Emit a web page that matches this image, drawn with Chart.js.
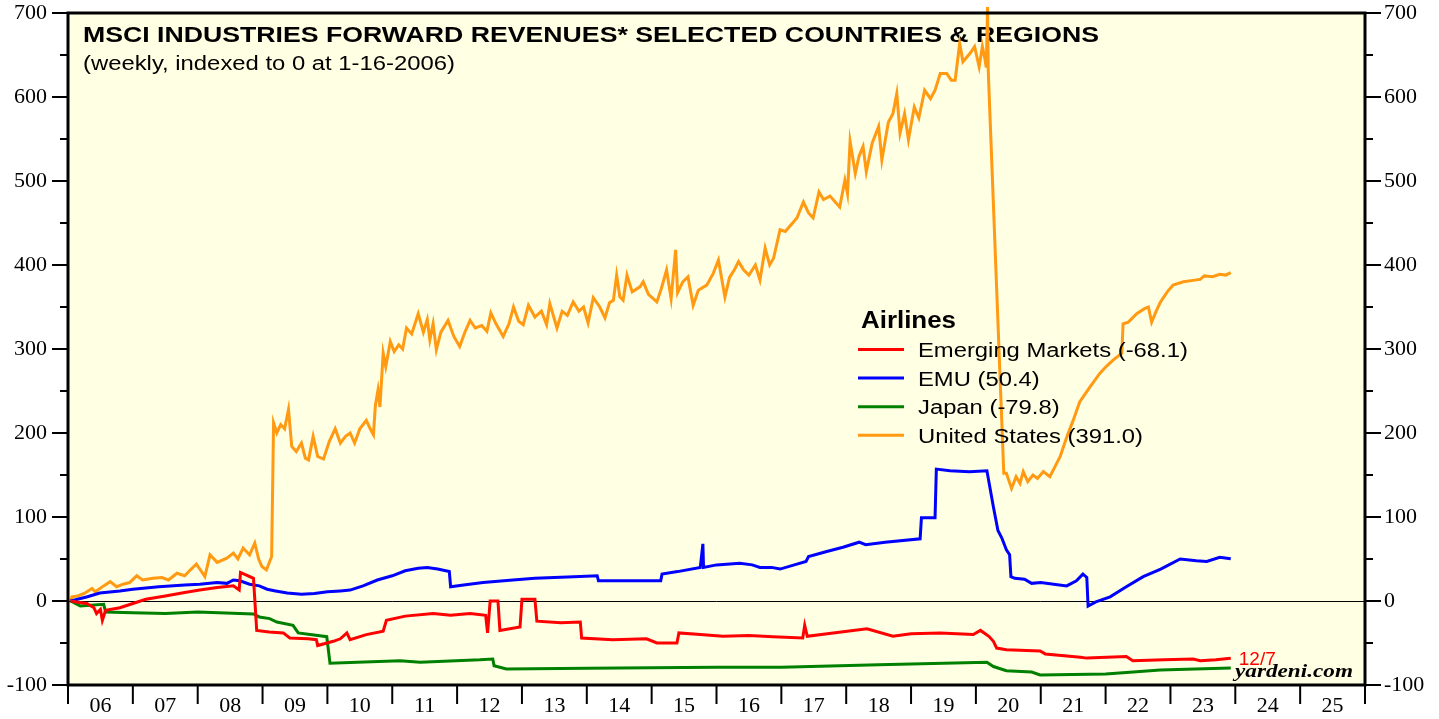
<!DOCTYPE html>
<html>
<head>
<meta charset="utf-8">
<title>MSCI Industries Forward Revenues - Airlines</title>
<script src="https://cdn.jsdelivr.net/npm/chart.js@4.4.1/dist/chart.umd.min.js"></script>
<style>
  html, body { margin: 0; padding: 0; background: #ffffff; }
  #chart { display: block; }
</style>
</head>
<body>
<canvas id="chart" width="1439" height="719"></canvas>
<script>
// weekly data, indexed to 0 at 1-16-2006 (x = decimal year)
const emWeeks = [2006.04, 2006.20, 2006.29, 2006.40, 2006.44, 2006.50, 2006.53, 2006.58, 2006.80, 2007.00, 2007.20, 2007.50,
  2007.80, 2008.03, 2008.30, 2008.55, 2008.64, 2008.66, 2008.86, 2008.91, 2009.10, 2009.32, 2009.42, 2009.70, 2009.83, 2009.85,
  2010.09, 2010.20, 2010.30, 2010.35, 2010.60, 2010.86, 2010.91, 2011.20, 2011.63, 2011.90, 2012.20, 2012.44, 2012.47, 2012.51,
  2012.63, 2012.66, 2012.97, 2013.00, 2013.20, 2013.23, 2013.60, 2013.90, 2013.92, 2014.40, 2014.92, 2015.08, 2015.39, 2015.42,
  2015.75, 2016.10, 2016.50, 2016.87, 2017.33, 2017.36, 2017.40, 2017.80, 2018.32, 2018.72, 2019.00, 2019.45, 2019.96, 2020.07,
  2020.20, 2020.27, 2020.32, 2020.47, 2020.99, 2021.07, 2021.61, 2021.71, 2022.32, 2022.42, 2022.90, 2023.35, 2023.46, 2023.70, 2023.93];
const emValues = [0, -2, -3, -8, -15, -10, -23, -11, -8, -3, 2, 6,
  10, 13, 16, 18, 13, 34, 27, -35, -37, -38, -44, -45, -46, -53,
  -48, -45, -38, -46, -40, -36, -23, -18, -15, -17, -15, -17, -38, 0,
  0, -35, -31, 2, 2, -24, -26, -25, -44, -46, -45, -50, -50, -38,
  -40, -42, -41, -42.5, -44, -29, -42, -38, -33, -42, -39, -38, -40, -35,
  -42, -48, -56, -58, -59.5, -63, -67, -68, -66, -71, -70, -69, -71, -70, -68.1];

const emuWeeks = [2006.04, 2006.30, 2006.49, 2006.80, 2007.00, 2007.40, 2007.80, 2008.03, 2008.30, 2008.45, 2008.55, 2008.65,
  2008.80, 2008.95, 2009.07, 2009.20, 2009.38, 2009.60, 2009.80, 2010.00, 2010.20, 2010.35, 2010.55, 2010.77, 2011.00, 2011.20,
  2011.40, 2011.54, 2011.70, 2011.88, 2011.90, 2012.10, 2012.40, 2012.86, 2013.20, 2013.50, 2013.80, 2014.16, 2014.18, 2014.60,
  2015.14, 2015.16, 2015.40, 2015.75, 2015.79, 2015.80, 2016.00, 2016.36, 2016.55, 2016.67, 2016.85, 2016.98, 2017.20, 2017.38,
  2017.42, 2017.70, 2017.95, 2018.20, 2018.30, 2018.60, 2019.14, 2019.16, 2019.37, 2019.39, 2019.60, 2019.90, 2020.17, 2020.27,
  2020.34, 2020.40, 2020.47, 2020.52, 2020.54, 2020.60, 2020.75, 2020.86, 2021.00, 2021.20, 2021.40, 2021.55, 2021.65, 2021.71,
  2021.73, 2021.85, 2022.07, 2022.30, 2022.58, 2022.85, 2023.15, 2023.40, 2023.56, 2023.76, 2023.93];
const emuValues = [0, 5, 9.5, 12, 14, 17, 19, 20, 22, 21, 25, 24,
  20, 18, 14, 12, 9.5, 8, 9, 11, 12, 13, 18, 25, 30, 36,
  39, 40, 38, 35, 17, 19, 22, 25, 27, 28, 29, 30, 24, 24,
  24, 32, 35, 40, 68, 40, 43, 45, 43, 40, 40, 38, 43, 47,
  53, 59, 64, 70, 67, 70, 74, 99, 99, 157, 155, 154, 155, 112,
  84, 75, 61, 55, 29, 27, 26, 21, 22, 20, 18, 24, 32, 28,
  -6, -1, 5, 16, 29, 38, 50, 48, 47, 52, 50.4];

const japanWeeks = [2006.04, 2006.19, 2006.55, 2006.58, 2007.00, 2007.50, 2008.00, 2008.86, 2008.95, 2009.11, 2009.22, 2009.47,
  2009.55, 2009.99, 2010.04, 2011.12, 2011.43, 2012.35, 2012.55, 2012.57, 2012.76, 2014.00, 2016.00, 2017.00, 2018.50, 2020.17,
  2020.27, 2020.47, 2020.86, 2020.99, 2022.00, 2022.32, 2022.84, 2023.93];
const japanValues = [0, -6, -4, -13, -14, -15, -13, -15.5, -19, -21, -25, -29,
  -38, -42.5, -74, -71, -73, -70, -69, -77, -81, -80, -79, -79, -76, -73,
  -78, -83, -84.5, -88, -87, -85, -82, -79.8];

const usWeeks = [2006.04, 2006.06, 2006.15, 2006.25, 2006.37, 2006.42, 2006.55, 2006.65, 2006.75, 2006.85, 2006.95, 2007.06,
  2007.15, 2007.31, 2007.45, 2007.55, 2007.68, 2007.80, 2007.90, 2007.98, 2008.05, 2008.11, 2008.19, 2008.30, 2008.45, 2008.55,
  2008.62, 2008.70, 2008.80, 2008.88, 2008.94, 2008.99, 2009.06, 2009.14, 2009.17, 2009.22, 2009.28, 2009.34, 2009.40, 2009.45,
  2009.52, 2009.60, 2009.66, 2009.71, 2009.78, 2009.85, 2009.94, 2010.03, 2010.12, 2010.20, 2010.28, 2010.35, 2010.42, 2010.50,
  2010.60, 2010.66, 2010.71, 2010.74, 2010.78, 2010.81, 2010.86, 2010.90, 2010.97, 2011.03, 2011.10, 2011.16, 2011.22, 2011.30,
  2011.40, 2011.48, 2011.54, 2011.58, 2011.63, 2011.68, 2011.75, 2011.86, 2011.95, 2012.04, 2012.12, 2012.20, 2012.28, 2012.38,
  2012.46, 2012.52, 2012.60, 2012.71, 2012.80, 2012.87, 2012.95, 2013.02, 2013.10, 2013.20, 2013.30, 2013.38, 2013.43, 2013.54,
  2013.62, 2013.70, 2013.79, 2013.88, 2013.95, 2014.02, 2014.10, 2014.20, 2014.28, 2014.35, 2014.41, 2014.46, 2014.51, 2014.56,
  2014.62, 2014.70, 2014.82, 2014.87, 2014.95, 2015.08, 2015.15, 2015.23, 2015.30, 2015.37, 2015.40, 2015.48, 2015.56, 2015.64,
  2015.72, 2015.85, 2015.95, 2016.03, 2016.13, 2016.20, 2016.28, 2016.34, 2016.42, 2016.50, 2016.60, 2016.67, 2016.75, 2016.82,
  2016.88, 2016.98, 2017.06, 2017.15, 2017.24, 2017.34, 2017.42, 2017.49, 2017.58, 2017.65, 2017.75, 2017.90, 2017.98, 2018.02,
  2018.06, 2018.14, 2018.20, 2018.26, 2018.31, 2018.40, 2018.50, 2018.55, 2018.65, 2018.72, 2018.78, 2018.83, 2018.90, 2018.96,
  2019.05, 2019.12, 2019.21, 2019.30, 2019.37, 2019.45, 2019.55, 2019.62, 2019.68, 2019.75, 2019.80, 2019.91, 2019.98, 2020.05,
  2020.10, 2020.14, 2020.16, 2020.18, 2020.19, 2020.43, 2020.47, 2020.55, 2020.62, 2020.68, 2020.73, 2020.80, 2020.88, 2020.95,
  2021.04, 2021.14, 2021.22, 2021.30, 2021.40, 2021.50, 2021.60, 2021.76, 2021.91, 2022.02, 2022.12, 2022.25, 2022.27, 2022.35,
  2022.48, 2022.60, 2022.66, 2022.71, 2022.78, 2022.84, 2022.95, 2023.04, 2023.20, 2023.38, 2023.46, 2023.52, 2023.65, 2023.76,
  2023.85, 2023.93];
const usValues = [0, 5, 6, 9, 15, 11, 18, 23, 17, 20, 22, 30,
  25, 27, 28, 25, 33, 30, 38, 44, 36, 29, 55, 46, 51, 57,
  50, 63, 55, 69, 50, 41, 37, 53, 212, 200, 210, 205, 228, 184,
  178, 188, 170, 168, 196, 172, 169, 190, 205, 188, 196, 200, 188, 205,
  215, 205, 198, 233, 251, 231, 295, 279, 309, 297, 305, 300, 325, 318,
  342, 320, 335, 311, 330, 299, 320, 334, 315, 303, 320, 334, 325, 328,
  321, 343, 330, 315, 330, 350, 333, 329, 352, 338, 345, 329, 354, 325,
  345, 340, 356, 345, 350, 331, 361, 350, 337, 355, 358, 388, 362, 358,
  388, 368, 374, 380, 365, 356, 372, 394, 360, 418, 367, 380, 386, 352,
  370, 376, 390, 406, 362, 385, 395, 404, 394, 388, 400, 382, 420, 400,
  408, 442, 440, 448, 456, 475, 462, 456, 487, 478, 482, 469, 501, 485,
  547, 509, 530, 541, 511, 545, 565, 525, 570, 580, 604, 557, 580, 549,
  588, 575, 608, 598, 608, 628, 628, 620, 620, 664, 642, 652, 660, 636,
  660, 645, 635, 707, 632, 152, 152, 134, 148, 140, 154, 142, 150, 146,
  154, 148, 160, 172, 195, 215, 237, 255, 271, 280, 287, 295, 330, 332,
  342, 348, 350, 332, 345, 355, 368, 376, 380, 382, 383, 387, 386, 389,
  388, 391];

const seriesNames = ['Emerging Markets', 'EMU', 'Japan', 'United States'];
const seriesColors = ['#ff0000', '#0000ff', '#008000', '#ff9a12'];
const yearLabels = ['06', '07', '08', '09', '10', '11', '12', '13', '14', '15',
  '16', '17', '18', '19', '20', '21', '22', '23', '24', '25'];
const lastDateLabel = '12/7';

const TITLE = 'MSCI INDUSTRIES FORWARD REVENUES* SELECTED COUNTRIES & REGIONS';
const SUBTITLE = '(weekly, indexed to 0 at 1-16-2006)';
const LEGEND_TITLE = 'Airlines';
const PLOT_BG = '#ffffe3';

function toPoints(weeks, values) {
  return weeks.map((w, i) => ({ x: w, y: values[i] }));
}

const seriesData = [
  [emWeeks, emValues],
  [emuWeeks, emuValues],
  [japanWeeks, japanValues],
  [usWeeks, usValues]
];

const datasets = seriesData.map(([weeks, values], i) => ({
  label: seriesNames[i] + ' (' + values[values.length - 1].toFixed(1) + ')',
  data: toPoints(weeks, values),
  borderColor: seriesColors[i],
  backgroundColor: seriesColors[i],
  borderWidth: 3,
  pointRadius: 0,
  tension: 0,
  clip: 12
}));

// draw text squeezed/stretched to a given width
function stretchText(ctx, text, x, y, width) {
  const w = ctx.measureText(text).width;
  ctx.save();
  ctx.translate(x, y);
  ctx.scale(width / w, 1);
  ctx.fillText(text, 0, 0);
  ctx.restore();
}

function stroke(ctx, x1, y1, x2, y2) {
  ctx.beginPath();
  ctx.moveTo(x1, y1);
  ctx.lineTo(x2, y2);
  ctx.stroke();
}

const frame = {
  id: 'frame',
  beforeDraw(chart) {
    const { ctx, chartArea: a } = chart;
    ctx.save();
    ctx.fillStyle = '#ffffff';
    ctx.fillRect(0, 0, chart.width, chart.height);
    ctx.fillStyle = PLOT_BG;
    ctx.fillRect(a.left, a.top, a.right - a.left, a.bottom - a.top);
    ctx.restore();
  },
  beforeDatasetsDraw(chart) {
    const { ctx, chartArea: a, scales } = chart;
    ctx.save();
    const y0 = Math.round(scales.y.getPixelForValue(0)) + 0.5;
    ctx.strokeStyle = '#000';
    ctx.lineWidth = 1;
    stroke(ctx, a.left, y0, a.right, y0);

    ctx.fillStyle = '#000';
    ctx.textBaseline = 'alphabetic';
    ctx.textAlign = 'left';
    ctx.font = 'bold 22px "Liberation Sans", Arial, sans-serif';
    stretchText(ctx, TITLE, a.left + 15, a.top + 29, 1016);
    ctx.font = '20px "Liberation Sans", Arial, sans-serif';
    stretchText(ctx, SUBTITLE, a.left + 15, a.top + 57, 372);
    ctx.restore();
  },
  afterDatasetsDraw(chart) {
    const { ctx, chartArea: a, scales } = chart;
    ctx.save();
    ctx.strokeStyle = '#000';

    // tick marks
    ctx.lineWidth = 2;
    for (let v = -100; v <= 700; v += 50) {
      const py = scales.y.getPixelForValue(v);
      const len = v % 100 === 0 ? 16 : 8;
      stroke(ctx, a.left - len, py, a.left, py);
      stroke(ctx, a.right, py, a.right + len, py);
    }
    for (let yr = 2006; yr <= 2026; yr++) {
      const px = scales.x.getPixelForValue(yr);
      stroke(ctx, px, a.bottom, px, a.bottom + 19);
    }

    // plot frame
    ctx.lineWidth = 3;
    ctx.strokeRect(a.left, a.top, a.right - a.left, a.bottom - a.top);

    // legend
    ctx.fillStyle = '#000';
    ctx.textAlign = 'left';
    ctx.textBaseline = 'alphabetic';
    ctx.font = 'bold 23px "Liberation Sans", Arial, sans-serif';
    stretchText(ctx, LEGEND_TITLE, 861, 328, 95);
    ctx.font = '20px "Liberation Sans", Arial, sans-serif';
    chart.data.datasets.forEach((ds, i) => {
      const ly = 349.5 + i * 28.6;
      ctx.strokeStyle = ds.borderColor;
      ctx.lineWidth = 3;
      stroke(ctx, 858, ly, 904, ly);
      ctx.fillStyle = '#000';
      stretchText(ctx, ds.label, 918, ly + 7.5, ctx.measureText(ds.label).width * 1.19);
    });

    // last date label next to the end of the first series
    const lastX = emWeeks[emWeeks.length - 1];
    const lastY = emValues[emValues.length - 1];
    ctx.fillStyle = '#ff0000';
    ctx.font = '19px "Liberation Sans", Arial, sans-serif';
    ctx.fillText(lastDateLabel, scales.x.getPixelForValue(lastX) + 8, scales.y.getPixelForValue(lastY) + 7);

    ctx.fillStyle = '#000';
    ctx.font = 'italic bold 19px "Liberation Serif", "Times New Roman", serif';
    stretchText(ctx, 'yardeni.com', 1235, 677, 118);
    ctx.restore();
  }
};

const serifTick = { family: '"Liberation Serif", "Times New Roman", serif', size: 22 };

function fixYAxis(width) {
  return (scale) => {
    scale.width = width;
    scale.paddingTop = 0;
    scale.paddingBottom = 0;
  };
}

new Chart(document.getElementById('chart'), {
  type: 'line',
  data: { datasets: datasets },
  plugins: [frame],
  options: {
    responsive: false,
    animation: false,
    devicePixelRatio: 1,
    layout: { padding: { top: 13, left: 0, right: 0, bottom: 0 } },
    plugins: {
      legend: { display: false },
      tooltip: { enabled: false },
      title: { display: false }
    },
    scales: {
      x: {
        type: 'linear',
        min: 2006,
        max: 2026,
        afterBuildTicks: (scale) => {
          scale.ticks = yearLabels.map((_, i) => ({ value: 2006.5 + i }));
        },
        afterFit: (scale) => {
          scale.height = 34;
          scale.paddingLeft = 0;
          scale.paddingRight = 0;
        },
        grid: { display: false, drawTicks: false },
        border: { display: false },
        ticks: {
          autoSkip: false,
          maxRotation: 0,
          padding: 8,
          color: '#000',
          font: serifTick,
          callback: (value, index) => yearLabels[index]
        }
      },
      y: {
        position: 'left',
        min: -100,
        max: 700,
        afterFit: fixYAxis(68),
        grid: { display: false, drawTicks: false },
        border: { display: false },
        ticks: { stepSize: 100, padding: 21, color: '#000', font: serifTick }
      },
      y2: {
        position: 'right',
        min: -100,
        max: 700,
        afterFit: fixYAxis(74),
        grid: { display: false, drawTicks: false },
        border: { display: false },
        ticks: { stepSize: 100, padding: 19, color: '#000', font: serifTick }
      }
    }
  }
});
</script>
</body>
</html>
